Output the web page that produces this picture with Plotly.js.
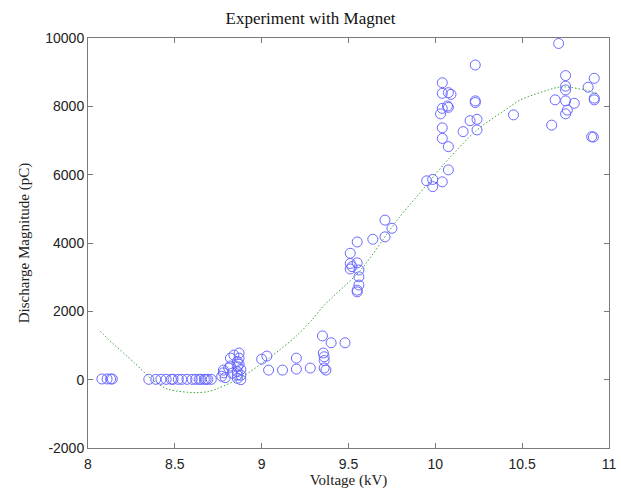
<!DOCTYPE html>
<html>
<head>
<meta charset="utf-8">
<script src="https://cdn.plot.ly/plotly-3.0.1.min.js"></script>
<style>html,body{margin:0;padding:0;background:#fff;}#chart{width:621px;height:493px;}</style>
</head>
<body>
<div id="chart"></div>
<script>
// Measured discharge points (Voltage kV, Discharge pC)
const voltage = [
  8.08, 8.11, 8.13, 8.14,
  8.35, 8.39, 8.42, 8.45, 8.48, 8.49, 8.52, 8.54, 8.57, 8.60, 8.62, 8.64, 8.65, 8.67, 8.68, 8.69, 8.71,
  8.77, 8.78, 8.78, 8.79, 8.81, 8.82, 8.83, 8.84, 8.86, 8.86, 8.86, 8.86, 8.87, 8.87, 8.87, 8.88, 8.88, 8.88, 8.86, 8.82,
  9.00, 9.03, 9.04, 9.12, 9.20, 9.20, 9.28, 9.355, 9.36, 9.36, 9.36, 9.37, 9.35, 9.40, 9.48,
  9.51, 9.51, 9.52, 9.51, 9.55, 9.56, 9.56, 9.56, 9.55, 9.55, 9.55, 9.64, 9.71, 9.75, 9.71,
  9.95, 9.985, 10.04, 9.985, 10.075, 10.075, 10.04, 10.04, 10.03, 10.04, 10.07, 10.075, 10.04, 10.075, 10.09, 10.04, 10.23, 10.23, 10.23, 10.20, 10.24, 10.16, 10.24, 10.45,
  10.71, 10.75, 10.915, 10.75, 10.75, 10.88, 10.69, 10.75, 10.80, 10.915, 10.915, 10.76, 10.75, 10.67, 10.90, 10.91
];
const discharge = [
  20, 20, 20, 20,
  10, 10, 10, 10, 10, 10, 10, 10, 10, 10, 10, 10, 10, 10, 10, 10, 10,
  100, 280, 200, 60, 340, 630, 190, 720, 530, 380, 230, 130, 630, 780, 450, 0, 300, 130, 40, 400,
  600, 690, 280, 280, 630, 310, 340, 780, 670, 560, 340, 280, 1280, 1080, 1080,
  3700, 3400, 3310, 3240, 3420, 3210, 3010, 2770, 2620, 2570, 4030, 4110, 4180, 4430, 4670,
  5820, 5860, 5790, 5650, 6140, 6820, 7060, 7370, 7780, 7940, 8010, 7970, 8380, 8400, 8350, 8690, 9210, 8160, 8110, 7580, 7620, 7260, 7310, 7750,
  9840, 8900, 8820, 8590, 8480, 8560, 8190, 8160, 8090, 8240, 8190, 7890, 7780, 7450, 7110, 7100
];
// Fitted trend curve
const fitVoltage = [8.07, 8.12, 8.27, 8.37, 8.46, 8.62, 8.69, 8.75, 8.88, 9.04, 9.20, 9.29, 9.36, 9.57, 9.78, 9.95, 10.08, 10.24, 10.43, 10.49, 10.70, 10.75, 10.86, 10.93];
const fitDischarge = [1420, 1170, 480, 0, -280, -380, -350, -250, 60, 620, 1280, 1750, 2180, 3210, 4670, 5700, 6480, 7310, 7990, 8190, 8550, 8570, 8480, 8380];

const xTickVals = [8, 8.5, 9, 9.5, 10, 10.5, 11];
const xTickText = ['8', '8.5', '9', '9.5', '10', '10.5', '11'];
const yTickVals = [-2000, 0, 2000, 4000, 6000, 8000, 10000];
const yTickText = ['-2000', '0', '2000', '4000', '6000', '8000', '10000'];

const traces = [
  {
    x: fitVoltage, y: fitDischarge, type: 'scatter', mode: 'lines',
    line: {color: 'rgb(60,165,60)', width: 1, dash: '1.5px,2px', shape: 'spline', smoothing: 0.8}
  },
  {
    x: voltage, y: discharge, type: 'scatter', mode: 'markers',
    marker: {symbol: 'circle-open', size: 10, color: 'rgb(105,105,255)', line: {width: 1, color: 'rgb(105,105,255)'}},
    hoverinfo: 'x+y'
  }
];

const axisCommon = {
  showgrid: false, zeroline: false, showline: true, linecolor: '#7a7a7a', linewidth: 1,
  ticks: 'inside', ticklen: 5, tickcolor: '#7a7a7a', mirror: 'ticks',
  tickfont: {family: 'Liberation Sans, Arial, sans-serif', size: 14, color: '#222'},
  tickmode: 'array'
};

const layout = {
  width: 621, height: 493,
  margin: {l: 88, r: 12, t: 38, b: 45},
  paper_bgcolor: '#fff', plot_bgcolor: '#fff',
  showlegend: false,
  title: {text: 'Experiment with Magnet', x: 0.5, xanchor: 'center', y: 0.963, yanchor: 'middle',
          font: {family: 'Liberation Serif, Times New Roman, serif', size: 17, color: '#111'}},
  xaxis: Object.assign({}, axisCommon, {
    range: [8, 11], tickvals: xTickVals, ticktext: xTickText, ticklabelstandoff: 3,
    title: {text: 'Voltage (kV)', standoff: 3, font: {family: 'Liberation Serif, Times New Roman, serif', size: 15, color: '#222'}}
  }),
  yaxis: Object.assign({}, axisCommon, {
    range: [-2000, 10000], tickvals: yTickVals, ticktext: yTickText,
    title: {text: 'Discharge Magnitude (pC)', standoff: 12, font: {family: 'Liberation Serif, Times New Roman, serif', size: 15, color: '#222'}}
  })
};

Plotly.newPlot('chart', traces, layout, {displayModeBar: false, staticPlot: true});
</script>
</body>
</html>
